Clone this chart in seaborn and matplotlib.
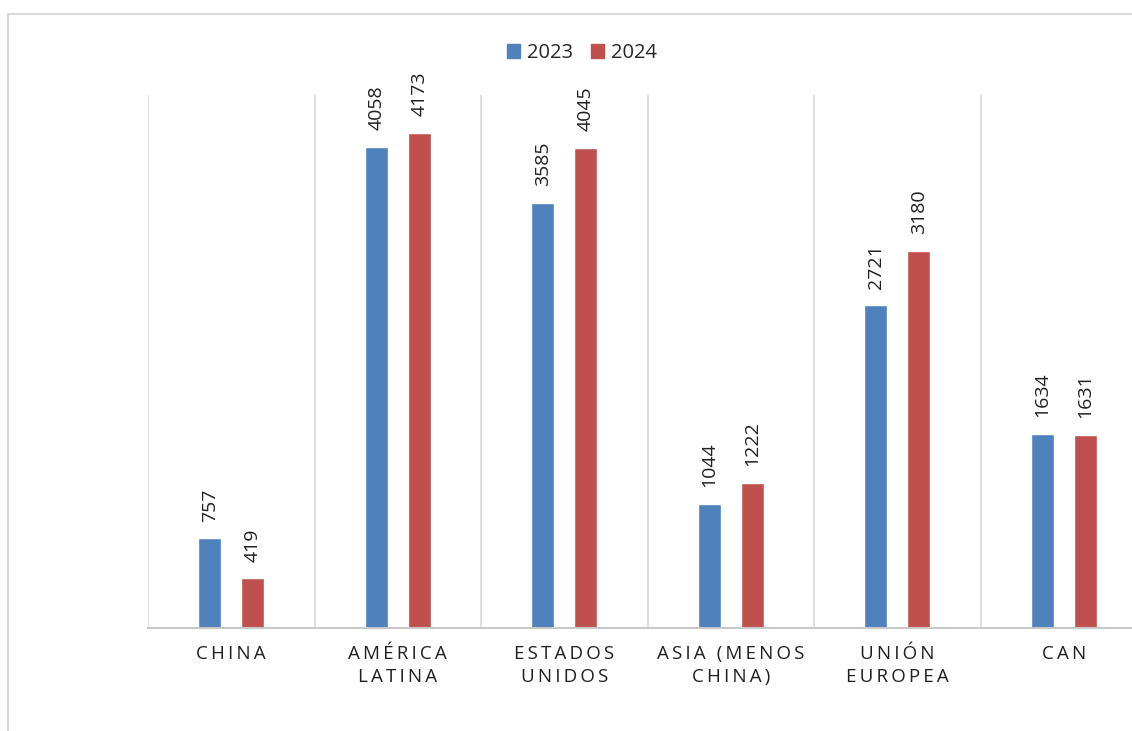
import pandas as pd
import seaborn as sns
import matplotlib.pyplot as plt
from matplotlib.lines import Line2D

# Data
regions = ["CHINA", "AMÉRICA\nLATINA", "ESTADOS\nUNIDOS", "ASIA (MENOS\nCHINA)",
           "UNIÓN\nEUROPEA", "CAN"]
years = ["2023", "2024"]
values_2023 = [757, 4058, 3585, 1044, 2721, 1634]
values_2024 = [419, 4173, 4045, 1222, 3180, 1631]

df = pd.DataFrame({
    "region": regions * 2,
    "year": [years[0]] * len(regions) + [years[1]] * len(regions),
    "value": values_2023 + values_2024,
})

sns.set_theme(style="white")
plt.rcParams["font.family"] = ["Open Sans", "DejaVu Sans"]

fig = plt.figure(figsize=(11.32, 7.31), dpi=100)
ax = fig.add_axes([148 / 1132, 103 / 731, 999 / 1132, 533 / 731])

sns.barplot(
    data=df, x="region", y="value", hue="year",
    palette=["#4F81BD", "#C0504D"], saturation=1,
    width=0.517, gap=0.465, ax=ax, legend=False,
)

# Rotated value labels above each bar
for cont in ax.containers:
    ax.bar_label(cont, fmt="%d", rotation=90, padding=12, fontsize=14, color="#1f1f1f")

ax.set_ylim(0, 4493)
ax.set_xlim(-0.5, len(regions) - 0.5)
ax.set_yticks([])
ax.set_xlabel("")
ax.set_ylabel("")

# Letter-spaced category labels (thin spaces between letters)
def spaced(s):
    return "\n".join("\u2009".join(line) for line in s.split("\n"))

ax.set_xticks(range(len(regions)))
ax.set_xticklabels([spaced(r) for r in regions], fontsize=13.5, color="#1f1f1f",
                   linespacing=1.4)
ax.tick_params(axis="x", length=0, pad=12)

# Vertical separators between categories
ax.set_xticks([i - 0.5 for i in range(len(regions) + 1)], minor=True)
ax.tick_params(axis="x", which="minor", length=0)
ax.grid(axis="x", which="minor", color="#D9D9D9", linewidth=1.2)
ax.grid(axis="x", which="major", visible=False)

for side in ["top", "right", "left"]:
    ax.spines[side].set_visible(False)
ax.spines["bottom"].set_color("#C8C8C8")
ax.spines["bottom"].set_linewidth(1.5)

# Legend at top centre
handles = [plt.Rectangle((0, 0), 1, 1, color=c) for c in ["#4F81BD", "#C0504D"]]
fig.legend(handles, years, loc="center", bbox_to_anchor=(582 / 1132, 1 - 53 / 731),
           ncol=2, frameon=False, fontsize=14.5, handlelength=0.65, handleheight=0.65,
           handletextpad=0.35, columnspacing=0.9)

# Outer chart frame (top and left edges visible)
fig.add_artist(Line2D([8 / 1132, 1], [1 - 14 / 731] * 2, color="#D9D9D9", lw=1.5))
fig.add_artist(Line2D([8 / 1132] * 2, [0, 1 - 14 / 731], color="#D9D9D9", lw=1.5))

plt.savefig("out.png", dpi=100)
